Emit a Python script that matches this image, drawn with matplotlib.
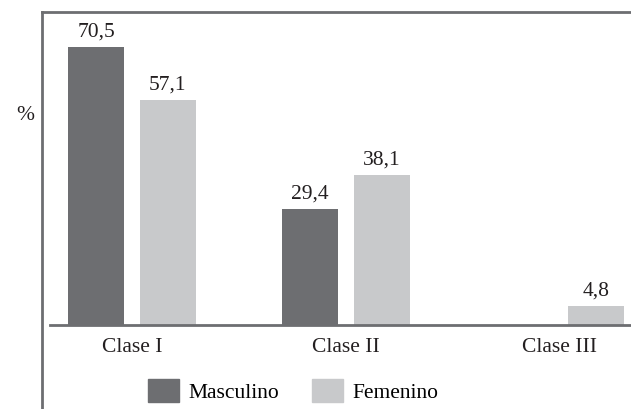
# Bar chart: percentage by class, Masculino vs Femenino

import matplotlib.pyplot as plt
from matplotlib.lines import Line2D
from matplotlib.patches import Patch
import numpy as np

plt.rcParams['font.family'] = ['Liberation Serif', 'DejaVu Serif']

classes = ['Clase I', 'Clase II', 'Clase III']
masculino = [70.5, 29.4, 0.0]
femenino = [57.1, 38.1, 4.8]
series_names = ['Masculino', 'Femenino']

dark = '#6d6e71'
light = '#c8c9cb'
line_col = '#6d6e71'

W, H = 631, 409
fig = plt.figure(figsize=(W / 100, H / 100), dpi=100)

# axes placed in pixel terms: baseline at y=325, left edge at x=50
ax = fig.add_axes([50 / W, (H - 325) / H, 1 - 50 / W, (325 - 29.3) / H])

x = np.arange(len(classes))
width = 0.262
offset = 0.168

bars_m = ax.bar(x - offset, masculino, width, color=dark)
bars_f = ax.bar(x + offset, femenino, width, color=light)

def fmt(v):
    return f'{v:.1f}'.replace('.', ',')

for bars, vals in ((bars_m, masculino), (bars_f, femenino)):
    for b, v in zip(bars, vals):
        if v <= 0:
            continue
        ax.annotate(fmt(v), (b.get_x() + b.get_width() / 2, v),
                    xytext=(0, 4), textcoords='offset points',
                    ha='center', va='bottom', fontsize=15.5, color='#231f20')

ax.set_xlim(-0.383, 2.332)
ax.set_ylim(0, 75)

for s in ['top', 'right', 'left']:
    ax.spines[s].set_visible(False)
ax.spines['bottom'].set_color(line_col)
ax.spines['bottom'].set_linewidth(2)
ax.set_yticks([])
ax.set_xticks(x)
ax.set_xticklabels(classes, fontsize=15.5, color='#231f20')
ax.tick_params(axis='x', length=0, pad=9)

# frame lines on the left and along the top
fig.add_artist(Line2D([42 / W, 42 / W], [0, (H - 12) / H], color=line_col, lw=2))
fig.add_artist(Line2D([42 / W, 1], [(H - 12) / H, (H - 12) / H], color=line_col, lw=2))

fig.text(25 / W, (H - 116) / H, '%', fontsize=15.5, ha='center', va='center', color='#231f20')

handles = [Patch(color=dark), Patch(color=light)]
fig.legend(handles, series_names, loc='center', bbox_to_anchor=(293 / W, (H - 391) / H),
           ncol=2, frameon=False, fontsize=15.5, handlelength=1.45, handleheight=1.25,
           handletextpad=0.45, columnspacing=1.5, borderpad=0, borderaxespad=0)

fig.savefig('out.png', dpi=100)
plt.close()
